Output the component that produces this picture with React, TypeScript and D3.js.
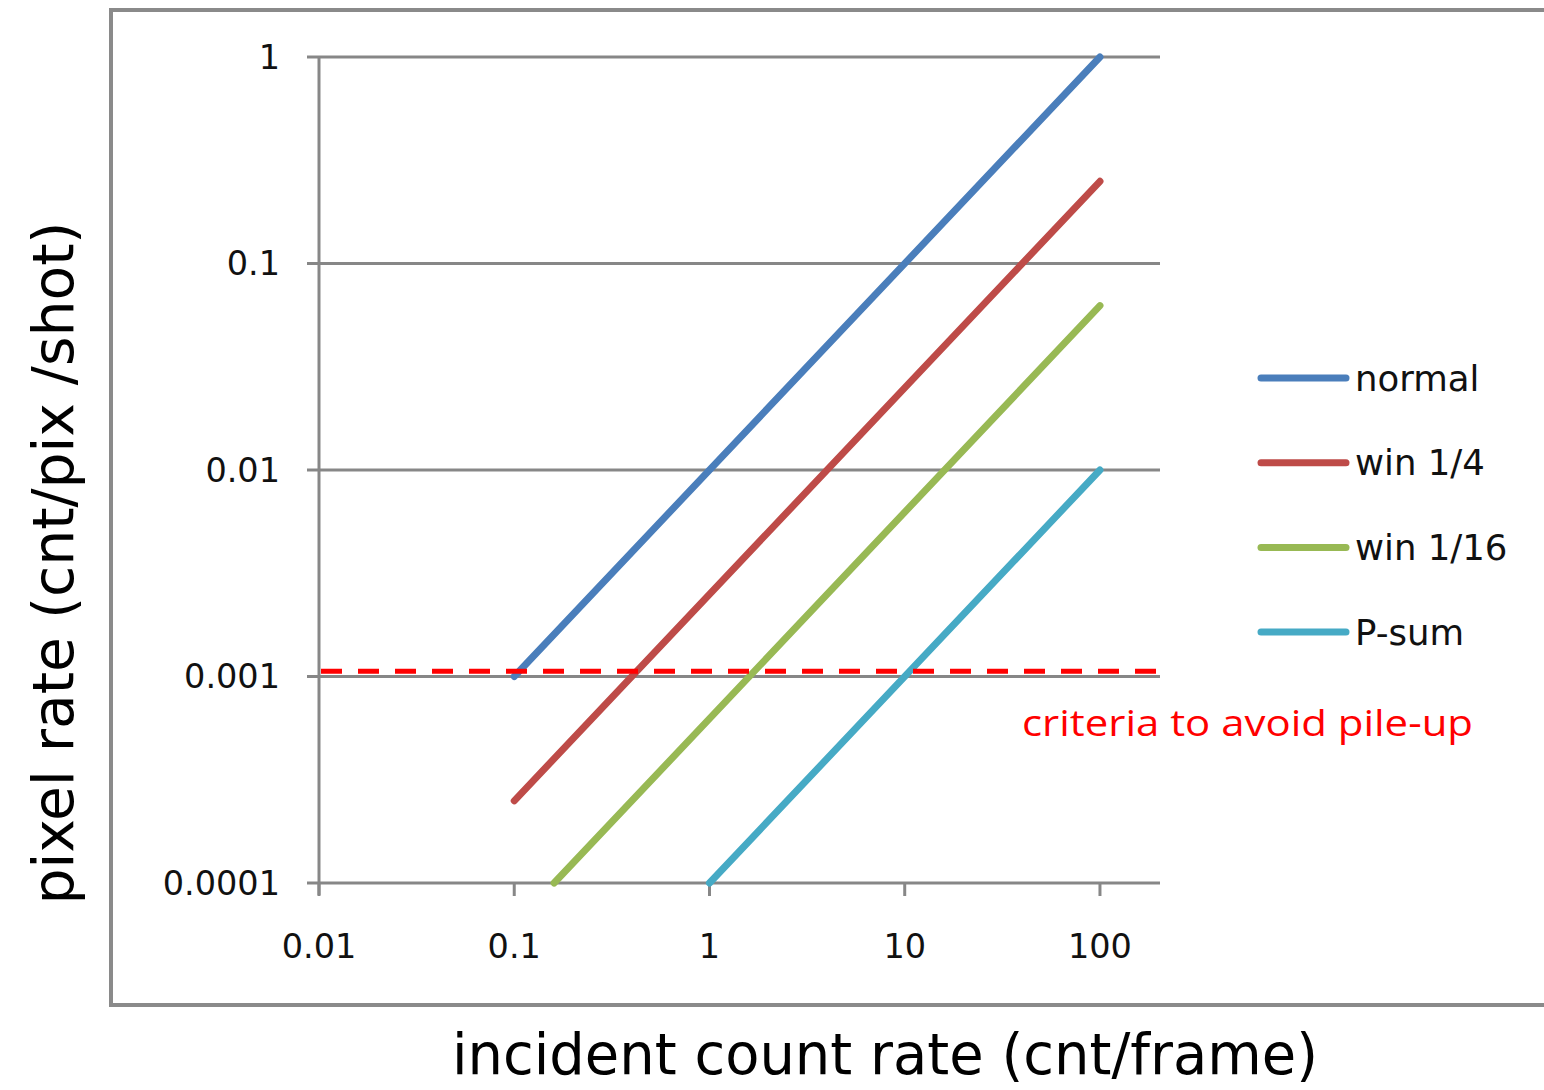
import React from "react";
import * as d3 from "d3";

const seriesNames = ["normal", "win 1/4", "win 1/16", "P-sum"];
const seriesColors = ["#4a7ebb", "#be4b48", "#98b954", "#46aac5"];
const xStart = [0.1, 0.1, 0.16, 1];
const xEnd = [100, 100, 100, 100];
const yStart = [0.001, 0.00025, 0.0001, 0.0001];
const yEnd = [1, 0.25, 0.0625, 0.01];

const xTicks = [0.01, 0.1, 1, 10, 100];
const xTickLabels = ["0.01", "0.1", "1", "10", "100"];
const yTicks = [0.0001, 0.001, 0.01, 0.1, 1];
const yTickLabels = ["0.0001", "0.001", "0.01", "0.1", "1"];

const threshold = 0.00106;
const thresholdLabel = "criteria to avoid pile-up";
const xTitle = "incident count rate (cnt/frame)";
const yTitle = "pixel rate (cnt/pix /shot)";

const W = 1544;
const H = 1090;
const font = "DejaVu Sans, Verdana, sans-serif";
const gridColor = "#878787";

export default function App() {
  const x = d3.scaleLog().domain([0.01, 203]).range([319, 1160]);
  const y = d3.scaleLog().domain([0.0001, 1]).range([883, 57]);
  const line = d3
    .line<[number, number]>()
    .x((d) => x(d[0]))
    .y((d) => y(d[1]));

  const [x0, x1] = x.range();
  const [yb, yt] = y.range();

  return (
    <svg
      width={W}
      height={H}
      style={{ position: "absolute", left: 0, top: 0, background: "#fff" }}
    >
      {/* outer frame */}
      <rect x={111} y={10} width={1500} height={995} fill="none" stroke="#8a8a8a" strokeWidth={4} />

      {/* horizontal gridlines + y ticks */}
      {yTicks.map((t, i) => (
        <g key={"gy" + i}>
          <line x1={x0 - 12} x2={x1} y1={y(t)} y2={y(t)} stroke={gridColor} strokeWidth={3} />
          <text
            x={280}
            y={y(t)}
            textAnchor="end"
            dominantBaseline="central"
            fontFamily={font}
            fontSize={33.5}
            fill="#111"
          >
            {yTickLabels[i]}
          </text>
        </g>
      ))}
      {/* y axis line */}
      <line x1={x0} x2={x0} y1={yt} y2={yb + 12} stroke={gridColor} strokeWidth={3} />

      {/* x ticks */}
      {xTicks.map((t, i) => (
        <g key={"gx" + i}>
          <line x1={x(t)} x2={x(t)} y1={yb} y2={yb + 13} stroke={gridColor} strokeWidth={3} />
          <text
            x={x(t)}
            y={946}
            textAnchor="middle"
            dominantBaseline="central"
            fontFamily={font}
            fontSize={33.5}
            fill="#111"
          >
            {xTickLabels[i]}
          </text>
        </g>
      ))}

      {/* series lines */}
      {seriesNames.map((n, i) => (
        <path
          key={n}
          d={line([
            [xStart[i], yStart[i]],
            [xEnd[i], yEnd[i]],
          ]) || ""}
          stroke={seriesColors[i]}
          strokeWidth={7}
          strokeLinecap="round"
          fill="none"
        />
      ))}

      {/* threshold */}
      <line
        x1={x0 + 2}
        x2={x1 + 4}
        y1={y(threshold)}
        y2={y(threshold)}
        stroke="#ff0000"
        strokeWidth={5}
        strokeDasharray="21 16"
      />
      <text
        x={1022}
        y={722}
        dominantBaseline="central"
        fontFamily="Open Sans, sans-serif"
        fontSize={36}
        fill="#ff0000"
        textLength={451}
        lengthAdjust="spacingAndGlyphs"
      >
        {thresholdLabel}
      </text>

      {/* legend */}
      {seriesNames.map((n, i) => {
        const ly = 378 + i * 84.7;
        return (
          <g key={"lg" + n}>
            <line x1={1261} x2={1346} y1={ly} y2={ly} stroke={seriesColors[i]} strokeWidth={7} strokeLinecap="round" />
            <text
              x={1355}
              y={ly}
              dominantBaseline="central"
              fontFamily={font}
              fontSize={35.5}
              fill="#111"
            >
              {n}
            </text>
          </g>
        );
      })}

      {/* axis titles */}
      <text
        x={885}
        y={1074}
        textAnchor="middle"
        fontFamily={font}
        fontSize={57}
        fill="#000"
        textLength={866}
        lengthAdjust="spacingAndGlyphs"
      >
        {xTitle}
      </text>
      <text
        transform={`translate(73,563) rotate(-90)`}
        textAnchor="middle"
        fontFamily={font}
        fontSize={57}
        fill="#000"
        textLength={683}
        lengthAdjust="spacingAndGlyphs"
      >
        {yTitle}
      </text>
    </svg>
  );
}
